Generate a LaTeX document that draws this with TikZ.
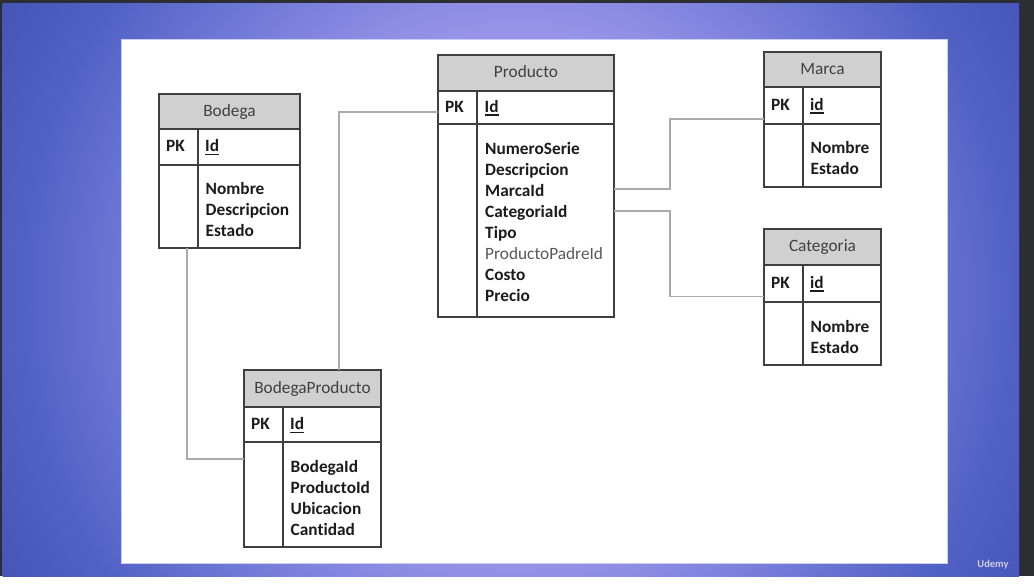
\documentclass[tikz,border=0pt]{standalone}
\usepackage{fontspec}
\setmainfont{Carlito}[Ligatures=NoCommon]
\definecolor{framec}{HTML}{2C2E32}
\definecolor{bgA}{HTML}{A29FF2}
\definecolor{bgB}{HTML}{9693E8}
\definecolor{bgC}{HTML}{6D77D5}
\definecolor{bgD}{HTML}{5262C4}
\definecolor{bgE}{HTML}{4454B6}
\definecolor{panelline}{HTML}{CDCDF0}
\definecolor{hdrfill}{HTML}{D0D0D0}
\definecolor{borderc}{HTML}{3F3F3F}
\definecolor{hdrtext}{HTML}{404040}
\definecolor{fldtext}{HTML}{1C1C1C}
\definecolor{padrec}{HTML}{595959}
\definecolor{connc}{HTML}{ABABAB}
\definecolor{udemyc}{HTML}{C9CCEC}
\pgfdeclareradialshading{bgshade}{\pgfpoint{0bp}{0bp}}{color(0bp)=(bgA); color(265bp)=(bgB); color(396bp)=(bgC); color(492bp)=(bgD); color(600bp)=(bgE)}
\newcommand\ulid[1]{\setbox0\hbox{#1}\rlap{\rule[-3.2pt]{\wd0}{1.2pt}}#1}
\newcommand\padretxt[1]{{\mdseries\color{padrec}#1}}
% name, L, D, R, T, H1, H2, B, title
\newcommand\ertab[9]{%
  \node[hdr, minimum width={#4-#2}, minimum height={#6-#5}] (#1-h) at (#2,#5) {#9};
  \node[cellbox, minimum width={#3-#2}, minimum height={#7-#6}] (#1-pk) at (#2,#6) {};
  \node[cellbox, minimum width={#4-#3}, minimum height={#7-#6}] (#1-id) at (#3,#6) {};
  \node[cellbox, minimum width={#3-#2}, minimum height={#8-#7}] (#1-bl) at (#2,#7) {};
  \node[cellbox, minimum width={#4-#3}, minimum height={#8-#7}] (#1-br) at (#3,#7) {};
  \node[lbl] (#1-pkt) at ([xshift=7pt]#1-pk.west) {PK};
}
% name, x, y0, list
\newcommand\fields[4]{%
  \foreach \ftxt [count=\fidx] in {#4} {\node[fld] (#1-f\fidx) at (#2, {#3+21*(\fidx-1)}) {\ftxt};}
}
\begin{document}
\begin{tikzpicture}[x=1pt,y=-1pt,
  cellbox/.style={draw=borderc, line width=1.5pt, inner sep=0pt, outer sep=0pt, anchor=north west},
  hdr/.style={cellbox, fill=hdrfill, text=hdrtext, font=\fontsize{17.3}{21}\selectfont, text height=13pt, text depth=3pt},
  lbl/.style={anchor=west, inner sep=0pt, text height=13pt, text depth=3pt, text=fldtext, font=\fontsize{17.3}{21}\selectfont\bfseries},
  fld/.style={anchor=base west, inner sep=0pt, text=fldtext, font=\fontsize{17.3}{21}\selectfont\bfseries},
  link/.style={draw=connc, line width=1.5pt}]
\useasboundingbox (0,0) rectangle (1034,588);
% frame and background
\fill[white] (0,0) rectangle (1034,588);
\fill[framec] (0,0) rectangle (1034,576);
\begin{scope}
  \clip (2.7,3.3) rectangle (1019,576);
  \node[inner sep=0pt, outer sep=0pt] (bgshading) at (517,295) {\pgfuseshading{bgshade}};
\end{scope}
\fill[white, draw=panelline, line width=1pt] (121,40) rectangle (947,563);
\node[text=udemyc, font=\fontsize{10.5}{10.5}\selectfont\bfseries, inner sep=0pt] (udemy) at (993,565) {Udemy};
% tables
\ertab{bodega}{159}{198}{300}{94}{129}{165}{248}{Bodega}
\node[lbl] (bodega-idt) at ([xshift=7pt]bodega-id.west) {\ulid{Id}};
\fields{bodega}{205.5}{195}{Nombre,Descripcion,Estado}

\ertab{prod}{438}{477}{614}{55}{91}{124}{317}{Producto}
\node[lbl] (prod-idt) at ([xshift=7.5pt]prod-id.west) {\ulid{Id}};
\fields{prod}{485}{154.5}{NumeroSerie,Descripcion,MarcaId,CategoriaId,Tipo,\padretxt{ProductoPadreId},Costo,Precio}

\ertab{marca}{764}{803}{881}{52}{87}{124}{187}{Marca}
\node[lbl] (marca-idt) at ([xshift=7pt]marca-id.west) {\ulid{id}};
\fields{marca}{810.5}{154}{Nombre,Estado}

\ertab{cat}{764}{803}{881}{229}{265}{302}{365}{Categoria}
\node[lbl] (cat-idt) at ([xshift=7pt]cat-id.west) {\ulid{id}};
\fields{cat}{810.5}{332}{Nombre,Estado}

\ertab{bp}{244}{283}{381}{370}{407}{442}{547}{BodegaProducto}
\node[lbl] (bp-idt) at ([xshift=7pt]bp-id.west) {\ulid{Id}};
\fields{bp}{290.5}{472}{BodegaId,ProductoId,Ubicacion,Cantidad}

% connectors
\draw[link] ([xshift=28pt]bodega-bl.south west) |- ([yshift=-17pt]bp-bl.north west);
\draw[link] ([xshift=95pt]bp-h.north west) |- ([yshift=-4.5pt]prod-pk.west);
\draw[link] ([yshift=31.5pt]prod-br.east) -- ++(56,0) |- ([yshift=-13.5pt]marca-pk.west);
\draw[link] ([yshift=9.5pt]prod-br.east) -- ++(56,0) |- ([yshift=-13pt]cat-pk.west);
\end{tikzpicture}
\end{document}
